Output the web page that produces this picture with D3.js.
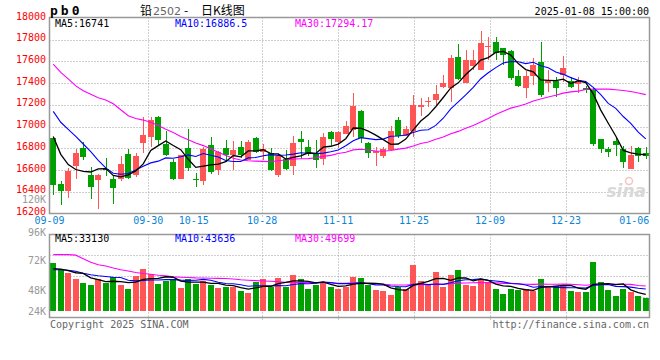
<!DOCTYPE html>
<html>
<head>
<meta charset="utf-8">
<script src="https://cdn.jsdelivr.net/npm/d3@7"></script>
<style>
  body { margin: 0; background: #fff; }
  svg text { font-family: 'DejaVu Sans Mono', monospace; font-size: 10px; }
</style>
</head>
<body>
<div id="chart"></div>
<script>
const dates = [
  '09-09','09-10','09-11','09-12','09-13','09-18','09-19','09-20','09-23','09-24',
  '09-25','09-26','09-27','09-30','10-08','10-09','10-10','10-11','10-14','10-15',
  '10-16','10-17','10-18','10-21','10-22','10-23','10-24','10-25','10-28','10-29',
  '10-30','10-31','11-01','11-04','11-05','11-06','11-07','11-08','11-11','11-12',
  '11-13','11-14','11-15','11-18','11-19','11-20','11-21','11-22','11-25','11-26',
  '11-27','11-28','11-29','12-02','12-03','12-04','12-05','12-06','12-09','12-10',
  '12-11','12-12','12-13','12-16','12-17','12-18','12-19','12-20','12-23','12-24',
  '12-25','12-26','12-27','12-30','12-31','01-02','01-03','01-06','01-07','01-08'
];
const tickDates = ['09-09','09-30','10-15','10-28','11-11','11-25','12-09','12-23','01-06'];
const gridDates = ['09-30','10-28','11-11','11-25','12-09','12-23'];

const open = [
  16895,16476,16406,16635,16800,16559,16507,16614,16522,16522,
  16751,16553,16846,16901,17091,16840,16672,16522,16806,16522,
  16498,16834,16598,16806,16736,16816,16696,16898,16770,16760,
  16559,16702,16641,16889,16812,16760,16702,16953,16855,16935,
  16965,17146,16849,16757,16733,16782,17063,16917,16960,17186,
  17225,17247,17369,17351,17641,17406,17562,17522,17739,17779,
  17721,17700,17467,17354,17470,17595,17400,17424,17476,17421,
  17394,17354,17339,16889,16797,16871,16797,16614,16803,16758
];
const high = [
  16900,16500,16620,16790,16860,16630,16560,16710,16555,16727,
  16790,16760,17085,17090,17100,16955,16700,16742,16980,16575,
  16810,16905,16780,16880,16865,16865,16875,16907,16843,16805,
  16748,16782,16910,16955,16880,16880,16941,16955,16955,17054,
  17308,17155,16855,16812,16812,17002,17085,17002,17293,17262,
  17277,17384,17476,17660,17760,17706,17706,17880,17828,17828,
  17725,17705,17522,17510,17629,17782,17522,17461,17654,17461,
  17455,17378,17354,16890,16812,16904,16825,16819,16812,16812
];
const low = [
  16370,16280,16340,16520,16695,16330,16240,16545,16285,16498,
  16519,16537,16757,16810,16835,16727,16513,16515,16590,16446,
  16461,16560,16550,16675,16605,16712,16690,16758,16696,16590,
  16537,16605,16553,16702,16727,16617,16650,16818,16800,16935,
  16904,16849,16712,16641,16712,16773,16895,16910,16900,17094,
  17180,17192,17354,17231,17430,17400,17522,17522,17614,17614,
  17568,17430,17363,17265,17384,17277,17323,17271,17415,17354,
  17314,17314,16825,16758,16721,16733,16620,16614,16672,16705
];
const close = [
  16467,16406,16589,16754,16718,16442,16550,16602,16436,16660,
  16528,16733,16926,17060,16880,16742,16522,16736,16617,16507,
  16797,16580,16767,16736,16788,16736,16855,16767,16790,16605,
  16727,16614,16849,16855,16751,16696,16904,16889,16953,17002,
  17186,16895,16754,16773,16794,16962,16917,16981,17195,17198,
  17238,17302,17406,17635,17436,17614,17614,17767,17745,17675,
  17660,17446,17375,17470,17568,17293,17424,17360,17540,17369,
  17415,17339,16843,16794,16764,16828,16675,16736,16727,16733
];

const ma5 = [
  16910,16745,16650,16605,16587,16582,16611,16613,16550,16538,
  16555,16592,16657,16781,16825,16868,16826,16788,16699,16625,
  16636,16647,16654,16677,16734,16721,16776,16776,16787,16751,
  16749,16701,16717,16730,16759,16753,16811,16819,16839,16889,
  16987,16985,16958,16922,16880,16836,16840,16885,16970,17051,
  17106,17183,17268,17356,17403,17479,17541,17613,17635,17683,
  17692,17659,17580,17525,17504,17430,17426,17423,17437,17397,
  17422,17405,17301,17152,17031,16914,16781,16759,16746,16741
];
const ma10 = [
  17140,17040,16975,16910,16840,16770,16690,16620,16570,16562,
  16569,16601,16635,16666,16682,16712,16709,16722,16740,16725,
  16752,16737,16721,16688,16679,16679,16712,16715,16732,16742,
  16735,16739,16747,16759,16755,16751,16756,16768,16784,16824,
  16870,16898,16889,16880,16885,16911,16913,16922,16946,16966,
  16971,17011,17077,17163,17227,17292,17362,17441,17496,17543,
  17585,17600,17597,17580,17593,17561,17542,17502,17481,17451,
  17426,17415,17362,17295,17214,17168,17093,17030,16949,16886.5
];
const ma30 = [
  17575,17500,17440,17375,17330,17297,17265,17245,17210,17155,
  17100,17075,17060,17040,17010,16975,16945,16910,16880,16850,
  16825,16795,16765,16735,16708,16692,16685,16682,16680,16677,
  16685,16692,16701,16704,16705,16714,16726,16735,16752,16764,
  16786,16791,16785,16776,16773,16780,16793,16802,16821,16844,
  16859,16883,16904,16934,16956,16985,17010,17043,17075,17111,
  17142,17170,17187,17208,17235,17255,17272,17288,17308,17320,
  17327,17342,17345,17346,17345,17340,17332,17324,17309,17294.17
];

const volume = [
  95400,82300,75700,64500,55900,51300,64500,55900,67800,51300,
  42800,69100,84200,74400,53300,59200,64500,46100,64500,53300,
  59200,51300,46100,48000,47400,39500,36200,57900,64500,48000,
  65800,48000,72400,64500,42800,51300,57900,48000,44700,48000,
  67800,65800,51300,41500,39500,31600,48000,44700,90800,59200,
  51100,76800,47200,70800,82000,51100,49100,64300,57700,44500,
  34700,44500,42600,44500,39300,64300,49100,49100,51800,40600,
  37000,37000,97500,57500,41800,29000,43500,38000,29500,25600
];
const volMa5 = [
  84000,83000,80000,76000,74800,65900,62400,58400,59100,58200,
  56500,57400,63000,64400,64800,68000,67100,59500,57500,57500,
  57500,54900,54900,51600,50400,46500,43400,45800,49100,49200,
  54500,56800,59700,59700,58700,55800,57800,52900,48900,50000,
  53300,54900,55500,54900,53200,45900,42400,41100,50900,54900,
  58800,64500,65000,61000,65600,65600,60000,63500,60800,53300,
  50100,49100,44800,42200,41100,47000,48000,49300,50700,51000,
  45500,43100,52800,53900,54200,52600,53900,42000,36400,33130
];
const volMa10 = [
  82000,82000,81000,79000,75000,72000,70000,68500,67000,66500,
  61200,59900,60700,61700,61500,62300,62300,61300,60900,61100,
  62800,61000,57200,54600,54000,52000,49200,50300,50300,49800,
  50500,50100,52800,54400,54000,55100,57300,56300,54300,54300,
  54500,56300,54200,51900,51600,49600,48600,48300,52900,54000,
  52400,53500,53000,56000,60200,62200,62300,64200,60900,59500,
  57800,54600,54100,51500,47200,48600,48600,47000,46400,46100,
  46300,45500,51000,52300,52600,49000,48500,47400,45100,43636
];
const volMa30 = [
  112000,112000,112000,111000,104000,97000,92000,89500,85500,82000,
  79500,76500,74500,73000,71000,69700,67800,67000,66500,65800,
  65500,65200,64800,64500,63500,62000,61000,60300,59700,59100,
  58200,57000,56900,56900,56500,56500,56200,56000,55200,55100,
  55900,55800,54700,53600,53200,52200,51700,51700,52500,52700,
  52500,53300,53300,54100,55300,55600,56100,56300,56100,55900,
  54900,54800,53800,53100,53000,53400,53200,53200,53400,53200,
  52200,51200,52700,53300,53300,53300,53100,52900,50800,49699
];

const priceTicks = [18000,17800,17600,17400,17200,17000,16800,16600,16400,16200];
const volTicks = [120000,96000,72000,48000,24000];

class KLineChart {

  constructor(_config) {
    this.config = {
      parentElement: _config.parentElement,
      containerWidth: _config.containerWidth || 660,
      containerHeight: _config.containerHeight || 360
    };
    this.initVis();
  }

  initVis() {
    let vis = this;

    vis.left = 49.5;
    vis.right = 649.5;
    vis.priceTop = 17.5;
    vis.priceBottom = 213.5;
    vis.volTop = 234.5;
    vis.volBottom = 317.5;
    vis.volBase = 311;

    vis.xScale = d3.scaleBand()
      .domain(dates)
      .range([vis.left, vis.right])
      .paddingInner(0.2)
      .paddingOuter(0.1);

    // labels and grid lines sit on a slightly different spacing than the candles
    vis.xLabel = d3.scalePoint()
      .domain(dates)
      .range([vis.left, vis.right]);

    vis.yPrice = d3.scaleLinear()
      .domain([16200, 18000])
      .range([vis.priceBottom, vis.priceTop + 0.5]);

    vis.yVol = d3.scaleLinear()
      .domain([0, 152000])
      .range([vis.volBase, vis.volTop]);

    vis.yVolLabel = d3.scaleLinear()
      .domain([48000, 120000])
      .range([290.5, 199.5]);

    vis.svg = d3.select(vis.config.parentElement).append('svg')
      .attr('width', vis.config.containerWidth)
      .attr('height', vis.config.containerHeight);

    vis.renderVis();
  }

  renderVis() {
    let vis = this;
    const svg = vis.svg;
    const bw = vis.xScale.bandwidth();
    const cx = d => Math.round(vis.xScale(d) + bw / 2) + 0.5;
    const up = i => close[i] >= open[i];
    const red = '#ff5555', green = '#00a000';

    // grid
    const grid = svg.append('g')
      .attr('stroke', '#a0a0a0')
      .attr('stroke-dasharray', '1,2')
      .attr('fill', 'none');

    grid.selectAll('.hgrid')
      .data(priceTicks.slice(1, -1))
      .join('line')
      .attr('x1', vis.left).attr('x2', vis.right)
      .attr('y1', d => Math.round(vis.yPrice(d)) + 0.5)
      .attr('y2', d => Math.round(vis.yPrice(d)) + 0.5);

    grid.selectAll('.vgrid')
      .data(gridDates)
      .join('line')
      .attr('x1', d => Math.round(vis.xLabel(d)) + 0.5)
      .attr('x2', d => Math.round(vis.xLabel(d)) + 0.5)
      .attr('y1', vis.priceTop).attr('y2', vis.priceBottom + 4);

    const volH = vis.volBottom - vis.volTop;
    grid.selectAll('.hgrid-v')
      .data([1, 2, 3])
      .join('line')
      .attr('x1', vis.left).attr('x2', vis.right)
      .attr('y1', d => Math.round(vis.volTop + d * volH / 4) + 0.5)
      .attr('y2', d => Math.round(vis.volTop + d * volH / 4) + 0.5);

    grid.selectAll('.vgrid-v')
      .data(gridDates)
      .join('line')
      .attr('x1', d => Math.round(vis.xLabel(d)) + 0.5)
      .attr('x2', d => Math.round(vis.xLabel(d)) + 0.5)
      .attr('y1', vis.volTop).attr('y2', vis.volBottom + 4);

    // watermark
    svg.append('text')
      .attr('x', 646).attr('y', 197)
      .attr('text-anchor', 'end')
      .style('font-family', 'DejaVu Sans')
      .style('font-size', '17px')
      .style('font-style', 'italic')
      .style('font-weight', 'bold')
      .attr('fill', '#d8d8d8')
      .text('sina');
    svg.append('circle')
      .attr('cx', 629).attr('cy', 181).attr('r', 3.5)
      .attr('fill', 'none').attr('stroke', '#f3c4c4').attr('stroke-width', 1.5);

    // candles
    const candles = svg.append('g').attr('shape-rendering', 'crispEdges');

    candles.selectAll('.wick')
      .data(dates)
      .join('line')
      .attr('x1', cx).attr('x2', cx)
      .attr('y1', (d, i) => vis.yPrice(high[i]))
      .attr('y2', (d, i) => vis.yPrice(low[i]))
      .attr('stroke', (d, i) => up(i) ? red : green);

    candles.selectAll('.body')
      .data(dates)
      .join('rect')
      .attr('x', d => Math.round(vis.xScale(d)))
      .attr('width', Math.round(bw))
      .attr('y', (d, i) => vis.yPrice(Math.max(open[i], close[i])))
      .attr('height', (d, i) => Math.max(1.5, vis.yPrice(Math.min(open[i], close[i])) - vis.yPrice(Math.max(open[i], close[i]))))
      .attr('fill', (d, i) => up(i) ? red : green);

    // volume bars
    candles.selectAll('.vol')
      .data(dates)
      .join('rect')
      .attr('x', d => Math.round(vis.xScale(d)))
      .attr('width', Math.round(bw))
      .attr('y', (d, i) => vis.yVol(volume[i]))
      .attr('height', (d, i) => vis.volBase - vis.yVol(volume[i]))
      .attr('fill', (d, i) => up(i) ? red : green);

    // moving averages
    const priceLine = d3.line()
      .x((d, i) => vis.xScale(dates[i]) + bw / 2)
      .y(d => vis.yPrice(d));
    const volLine = d3.line()
      .x((d, i) => vis.xScale(dates[i]) + bw / 2)
      .y(d => vis.yVol(d));

    const maSeries = [
      { p: ma30, v: volMa30, color: '#ff00ff', w: 1.1 },
      { p: ma10, v: volMa10, color: '#0000ff', w: 1.1 },
      { p: ma5, v: volMa5, color: '#000000', w: 1.3 }
    ];
    maSeries.forEach(s => {
      svg.append('path').attr('d', priceLine(s.p))
        .attr('fill', 'none').attr('stroke', s.color).attr('stroke-width', s.w);
      svg.append('path').attr('d', volLine(s.v))
        .attr('fill', 'none').attr('stroke', s.color).attr('stroke-width', s.w);
    });

    // frames
    svg.append('rect')
      .attr('x', vis.left).attr('y', vis.priceTop)
      .attr('width', vis.right - vis.left).attr('height', vis.priceBottom - vis.priceTop)
      .attr('fill', 'none').attr('stroke', '#999').attr('stroke-width', 1.5);
    svg.append('rect')
      .attr('x', vis.left).attr('y', vis.volTop)
      .attr('width', vis.right - vis.left).attr('height', vis.volBottom - vis.volTop)
      .attr('fill', 'none').attr('stroke', '#999').attr('stroke-width', 1.5);

    // y labels
    svg.selectAll('.price-label')
      .data(priceTicks)
      .join('text')
      .attr('x', 46)
      .attr('y', d => vis.yPrice(d) - 2)
      .attr('dy', '0.35em')
      .attr('text-anchor', 'end')
      .attr('fill', '#ff0000')
      .text(d => d);

    // keep the top volume label clear of the date row
    svg.selectAll('.vol-label')
      .data(volTicks)
      .join('text')
      .attr('x', 46)
      .attr('y', d => Math.min(Math.max(vis.yVolLabel(d), d === 96000 ? 232.5 : 0), 311))
      .attr('dy', '0.35em')
      .attr('text-anchor', 'end')
      .attr('fill', '#999')
      .text(d => (d / 1000) + 'K');

    // x labels
    svg.selectAll('.x-label')
      .data(tickDates)
      .join('text')
      .attr('x', d => vis.xLabel(d))
      .attr('y', 220.5)
      .attr('dy', '0.35em')
      .attr('text-anchor', 'middle')
      .attr('fill', '#0a84d6')
      .text(d => d);

    // legends
    const legend = (y, vals) => {
      svg.append('text').attr('x', 55).attr('y', y).attr('fill', '#000').text('MA5:' + vals[0]);
      svg.append('text').attr('x', 175).attr('y', y).attr('fill', '#0000ff').text('MA10:' + vals[1]);
      svg.append('text').attr('x', 295).attr('y', y).attr('fill', '#ff00ff').text('MA30:' + vals[2]);
    };
    legend(27, [ma5[ma5.length - 1], ma10[ma10.length - 1], ma30[ma30.length - 1]]);
    legend(242, [volMa5[volMa5.length - 1], volMa10[volMa10.length - 1], volMa30[volMa30.length - 1]]);

    // header
    svg.append('text')
      .attr('x', 50).attr('y', 15)
      .style('font-size', '13px').style('font-weight', 'bold')
      .style('letter-spacing', '3px')
      .text('pb0');

    const cjk = "'Noto Sans CJK SC', sans-serif";
    const title = svg.append('text')
      .attr('y', 15)
      .style('font-size', '12px');
    title.append('tspan').attr('x', 140).style('font-family', cjk).text('铅');
    title.append('tspan').attr('x', 153).attr('fill', '#666').style('font-family', 'DejaVu Sans').style('font-size', '11px').text('2502');
    title.append('tspan').attr('x', 184).style('font-family', cjk).text('-');
    title.append('tspan').attr('x', 201).style('font-family', cjk).text('日K线图');

    svg.append('text')
      .attr('x', 649).attr('y', 15)
      .attr('text-anchor', 'end')
      .text('2025-01-08 15:00:00');

    // footer
    svg.append('text')
      .attr('x', 50).attr('y', 328)
      .attr('fill', '#666')
      .text('Copyright 2025 SINA.COM');
    svg.append('text')
      .attr('x', 649).attr('y', 328)
      .attr('text-anchor', 'end')
      .attr('fill', '#666')
      .text('http://finance.sina.com.cn');
  }
}

new KLineChart({ parentElement: '#chart' });
</script>
</body>
</html>
